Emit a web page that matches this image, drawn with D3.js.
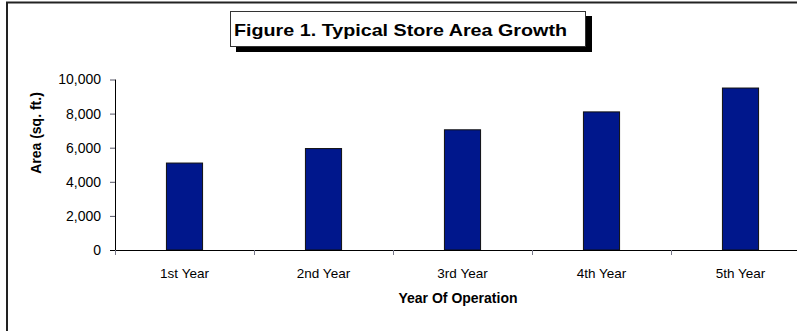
<!DOCTYPE html>
<html>
<head>
<meta charset="utf-8">
<script src="https://cdn.jsdelivr.net/npm/d3@7"></script>
<style>
  html, body { margin: 0; padding: 0; background: #fff; overflow: hidden; }
  svg { display: block; font-family: "Liberation Sans", Arial, sans-serif; }
</style>
</head>
<body>
<svg id="chart" width="797" height="331"></svg>
<script>
const categories = ["1st Year", "2nd Year", "3rd Year", "4th Year", "5th Year"];
const areaValues = [5100, 5950, 7050, 8100, 9500];
const yTickValues = [0, 2000, 4000, 6000, 8000, 10000];
const titleText = "Figure 1. Typical Store Area Growth";
const xTitle = "Year Of Operation";
const yTitle = "Area (sq. ft.)";

const svg = d3.select("#chart");

// outer frame (cropped on right and bottom)
svg.append("rect")
  .attr("x", 7).attr("y", 2.5).attr("width", 820).attr("height", 360)
  .attr("fill", "none").attr("stroke", "#222").attr("stroke-width", 2);

const plot = { left: 115, right: 810, top: 79.5, bottom: 250 };

const x = d3.scaleBand().domain(categories).range([plot.left, plot.right]).padding(0);
const y = d3.scaleLinear().domain([0, 10000]).range([plot.bottom, plot.top]);

// bars
const barW = x.bandwidth() * 0.26;
svg.append("g").selectAll("rect")
  .data(categories.map((c, i) => ({ c, v: areaValues[i] })))
  .join("rect")
  .attr("x", d => x(d.c) + x.bandwidth() / 2 - barW / 2)
  .attr("y", d => y(d.v))
  .attr("width", barW)
  .attr("height", d => y(0) - y(d.v))
  .attr("fill", "#00178C")
  .attr("stroke", "#111")
  .attr("stroke-width", 1);

// y axis
const yAxis = svg.append("g")
  .attr("transform", `translate(${plot.left},0)`)
  .call(d3.axisLeft(y).tickValues(yTickValues).tickSize(5).tickPadding(9).tickFormat(d3.format(",")));
yAxis.select(".domain").attr("stroke", "#000").attr("d", `M0.5,${plot.top}V${plot.bottom}`);
yAxis.selectAll(".tick line").attr("stroke", "#556");
yAxis.selectAll(".tick text").attr("font-size", 14).attr("fill", "#000")
  .attr("font-family", "Liberation Sans, Arial, sans-serif");

// x axis
const xAxis = svg.append("g")
  .attr("transform", `translate(0,${plot.bottom})`)
  .call(d3.axisBottom(x).tickSize(0).tickPadding(18));
xAxis.select(".domain").attr("stroke", "#000").attr("d", `M${plot.left - 5},0.5H${plot.right}`);
xAxis.selectAll(".tick text").attr("font-size", 13.5).attr("fill", "#000")
  .attr("font-family", "Liberation Sans, Arial, sans-serif");
// category boundary ticks
xAxis.append("g").selectAll("line")
  .data(categories)
  .join("line")
  .attr("x1", d => x(d) + 0.5).attr("x2", d => x(d) + 0.5)
  .attr("y1", 0).attr("y2", 5)
  .attr("stroke", "#778");

// axis titles
svg.append("text")
  .attr("x", 458).attr("y", 303)
  .attr("text-anchor", "middle")
  .attr("font-size", 14).attr("font-weight", "bold")
  .text(xTitle);

svg.append("text")
  .attr("transform", "translate(41,133) rotate(-90)")
  .attr("text-anchor", "middle")
  .attr("font-size", 14).attr("font-weight", "bold")
  .text(yTitle);

// title box with shadow
svg.append("rect")
  .attr("x", 236).attr("y", 16).attr("width", 356).attr("height", 36)
  .attr("fill", "#000");
svg.append("rect")
  .attr("x", 230.5).attr("y", 11.5).attr("width", 355).attr("height", 35)
  .attr("fill", "#fff").attr("stroke", "#333").attr("stroke-width", 1);
svg.append("text")
  .attr("x", 234).attr("y", 36)
  .attr("font-size", 17).attr("font-weight", "bold")
  .attr("textLength", 333).attr("lengthAdjust", "spacingAndGlyphs")
  .text(titleText);
</script>
</body>
</html>
